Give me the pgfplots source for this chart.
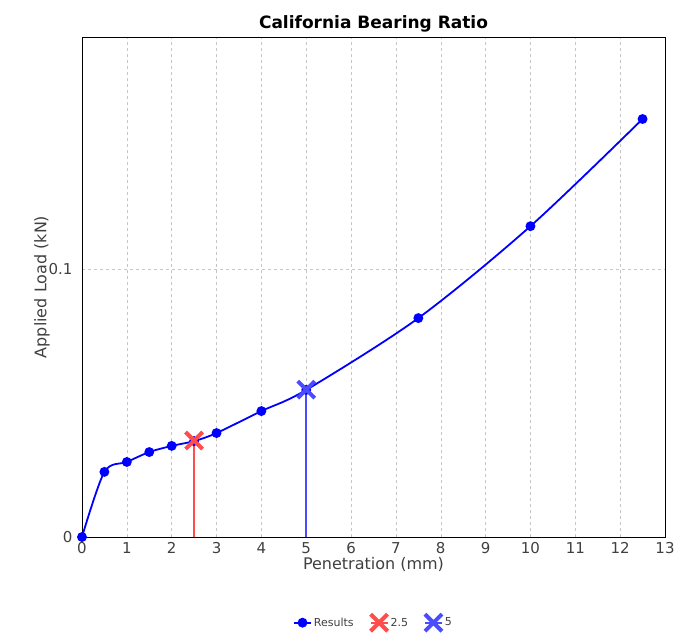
\documentclass[border=0pt]{standalone}
\usepackage{pgfplots}
\pgfplotsset{compat=1.18}
\usepackage{fontspec}
\setmainfont{DejaVu Sans}
\begin{document}
\begin{tikzpicture}
\path[use as bounding box] (-82pt,-96pt) rectangle (609pt,537pt);
\begin{axis}[
  at={(0,0)}, anchor=south west,
  width=583pt, height=500pt, scale only axis,
  xmin=0, xmax=13, ymin=0, ymax=0.1866,
  xtick={0,1,...,13}, ytick={0,0.1},
  yticklabel style={/pgf/number format/fixed, xshift=-6pt},
  xticklabel style={yshift=-2pt},
  /pgf/number format/assume math mode=true,
  tick label style={font=\fontsize{15}{17}\selectfont, text=black!75},
  grid=major, grid style={dashed, gray!45},
  tick style={draw=none},
  axis line style={black},
  title={\bfseries California Bearing Ratio},
  title style={font=\fontsize{17}{19}\selectfont, yshift=-5pt},
  xlabel={Penetration (mm)}, ylabel={Applied Load (kN)},
  xlabel style={yshift=3pt}, ylabel style={yshift=-8pt},
  label style={font=\fontsize{16}{18}\selectfont, text=black!75},
  legend style={at={(0.5,-0.15)}, anchor=north, draw=none, legend columns=3,
    font=\fontsize{11}{13}\selectfont, text=black!75,
    /tikz/every even column/.append style={column sep=14pt}},
]
\addplot[blue, line width=1.8pt, smooth, mark=*, mark size=4pt] coordinates {
(0,0) (0.5,0.0243) (1,0.028) (1.5,0.0317) (2,0.034) (2.5,0.0358) (3,0.0388)
(4,0.047) (5,0.0549) (7.5,0.0817) (10,0.116) (12.5,0.156)};
\addlegendentry{Results}
\addplot[red!70, line width=1.8pt, forget plot] coordinates {(2.5,0.036) (2.5,0)};
\addplot[blue!70, line width=1.8pt, forget plot] coordinates {(5,0.055) (5,0)};
\addplot[red!70, line width=1.8pt, mark=x, mark size=12pt, mark options={solid, line width=4pt}] coordinates {(2.5,0.036)};
\addlegendentry{2.5}
\addplot[blue!70, line width=1.8pt, mark=x, mark size=12pt, mark options={solid, line width=4pt}] coordinates {(5,0.055)};
\addlegendentry{5}
\end{axis}
\end{tikzpicture}
\end{document}
